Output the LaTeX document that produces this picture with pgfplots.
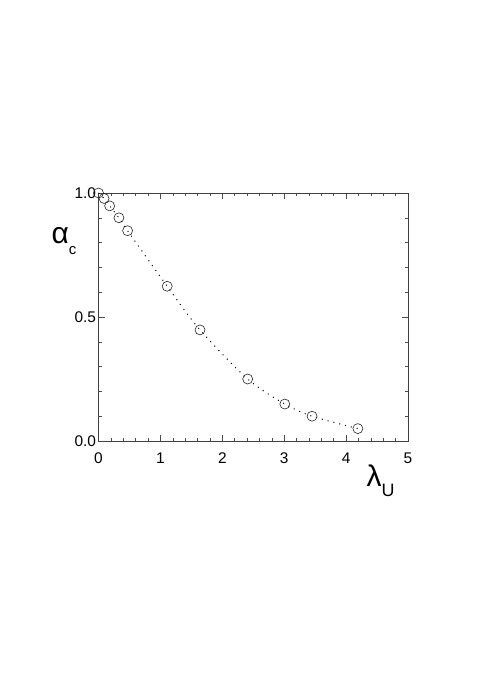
\documentclass[border=0pt]{standalone}
\usepackage{fontspec}
\setmainfont{Liberation Sans}
\usepackage{pgfplots}
\pgfplotsset{compat=1.18}

\pgfplotstableread{
x     y
0.00  1.000
0.09  0.978
0.18  0.948
0.33  0.900
0.47  0.848
1.11  0.624
1.64  0.448
2.41  0.250
3.01  0.149
3.45  0.100
4.19  0.050
}\alphadata

\begin{document}
\begin{tikzpicture}[x=1bp,y=1bp]
\path[use as bounding box] (-98.5bp,-258bp) rectangle (389.5bp,441bp);
\begin{axis}[
  at={(0,0)}, anchor=origin,
  scale only axis, width=309.5bp, height=248bp,
  xmin=0, xmax=5, ymin=0, ymax=1,
  xtick={0,1,2,3,4,5}, ytick={0,0.5,1},
  minor x tick num=4, minor y tick num=4,
  /pgf/number format/assume math mode=true,
  tick label style={font=\fontsize{15.5}{17}\selectfont},
  tick align=inside,
  major tick length=6bp, minor tick length=3bp,
  tick style={black!70, line width=0.5bp},
  axis line style={black!75, line width=0.6bp},
  xticklabel style={yshift=-8bp},
  yticklabel style={xshift=1bp, /pgf/number format/.cd, fixed, fixed zerofill, precision=1},
  clip=false,
]
\addplot[black, line width=1bp, dash pattern=on 1bp off 5bp, smooth, tension=0.5, mark=none]
  table[x=x,y=y] {\alphadata};
\addplot[only marks, mark=o, mark size=5bp, mark options={black!85, line width=0.6bp}]
  table[x=x,y=y] {\alphadata};
\end{axis}
\node[anchor=base west, inner sep=0pt] at (-47bp,197bp) {\fontsize{30}{32}\selectfont α\raisebox{-11bp}{\fontsize{15}{16}\selectfont c}};
\node[anchor=base west, inner sep=0pt] at (268bp,-45bp) {\fontsize{30}{32}\selectfont λ\raisebox{-10bp}{\fontsize{18}{19}\selectfont U}};
\end{tikzpicture}
\end{document}
